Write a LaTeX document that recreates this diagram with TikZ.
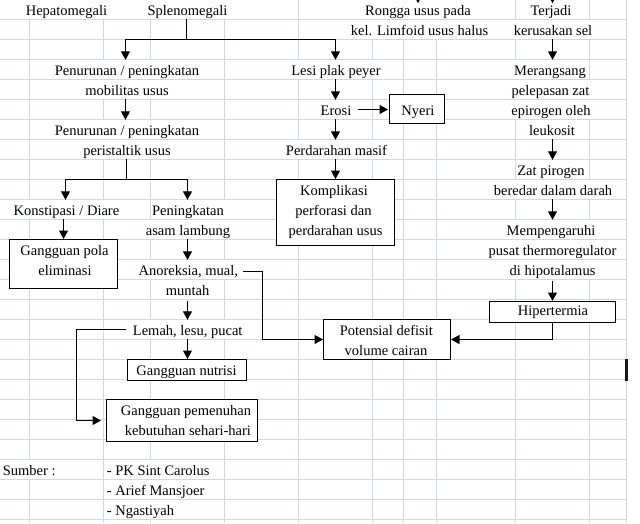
\documentclass[tikz,border=0pt]{standalone}
\usepackage{fontspec}
\setmainfont{Liberation Serif}
\usetikzlibrary{arrows.meta}
\definecolor{gridc}{RGB}{208,215,229}
\begin{document}
\begin{tikzpicture}[x=1pt,y=-1pt,
  txt/.style={anchor=base, fill=white, inner xsep=1pt, inner ysep=0pt, text height=15pt, text depth=4pt, font=\fontsize{14.5pt}{20pt}\selectfont},
  txtl/.style={txt, anchor=base west},
  btxt/.style={anchor=base, inner sep=0pt, font=\fontsize{14.5pt}{20pt}\selectfont},
  box/.style={draw=black, fill=white, line width=1pt, inner sep=0pt},
  ln/.style={line width=1.1pt},
  arr/.style={line width=1.1pt, -{Triangle[width=9pt,length=8.5pt]}},
  gl/.style={draw=gridc, line width=1pt}]
\fill[white] (0,0) rectangle (640,523);
\useasboundingbox (0,0) rectangle (640,523);
% vertical grid lines
\foreach \x in {29.5,103.5,150.5,224.5,298.5,372.5,403.5,436.5,515.5,589.5,626.5}
  \draw[gl] (\x,0) -- (\x,523);
% texts
\node[txt] (hep) at (66.5,15) {Hepatomegali};
\node[txt] (spl) at (187.5,15) {Splenomegali};
\node[txt] (rong1) at (418,15) {Rongga usus pada};
\node[txt] (rong2) at (419.5,35) {kel. Limfoid usus halus};
\node[txt] (terj1) at (551,15) {Terjadi};
\node[txt] (terj2) at (553,35) {kerusakan sel};
\node[txt] (pen1a) at (127,75) {Penurunan / peningkatan};
\node[txt] (pen1b) at (127,95) {mobilitas usus};
\node[txt] (lesi) at (336,75) {Lesi plak peyer};
\node[txt] (mer1) at (550,75) {Merangsang};
\node[txt] (mer2) at (550.5,95) {pelepasan zat};
\node[txt] (mer3) at (551,115) {epirogen oleh};
\node[txt] (mer4) at (552,135) {leukosit};
\node[txt] (erosi) at (336,115) {Erosi};
\node[txt] (pen2a) at (127,135) {Penurunan / peningkatan};
\node[txt] (pen2b) at (127,155) {peristaltik usus};
\node[txt] (perd) at (336.5,155) {Perdarahan masif};
\node[txt] (zat1) at (551,175) {Zat pirogen};
\node[txt] (zat2) at (553,195) {beredar dalam darah};
\node[txt] (kons) at (66.5,215) {Konstipasi / Diare};
\node[txt] (pen3a) at (188,215) {Peningkatan};
\node[txt] (pen3b) at (188,235) {asam lambung};
\node[txt] (memp1) at (551,235) {Mempengaruhi};
\node[txt] (memp2) at (552.5,255) {pusat thermoregulator};
\node[txt] (memp3) at (552.5,275) {di hipotalamus};
\node[txt] (anor1) at (188.3,275) {Anoreksia, mual,};
\node[txt] (anor2) at (187.5,295) {muntah};
\node[txt] (lemah) at (187.7,335) {Lemah, lesu, pucat};
\node[txtl] (sumber) at (1.7,475) {Sumber :};
\node[txtl] (src1) at (105.7,475) {- PK Sint Carolus};
\node[txtl] (src2) at (105.7,495) {- Arief Mansjoer};
\node[txtl] (src3) at (105.7,515) {- Ngastiyah};
% horizontal grid lines
\foreach \k in {0,...,25}
  \draw[gl] (0,{19.5+20*\k}) -- (626.5,{19.5+20*\k});
\fill[black!90] (625,358.5) rectangle (627.5,380.5);
% boxes
\node[box, minimum width=108pt, minimum height=49pt] (polabox) at (63.5,264) {};
\node[box, minimum width=118pt, minimum height=66pt] (kompbox) at (335.5,212.5) {};
\node[box, minimum width=55pt, minimum height=29pt] (nyeribox) at (417,109) {};
\node[box, minimum width=119pt, minimum height=21pt] (nutbox) at (187,370) {};
\node[box, minimum width=151pt, minimum height=42pt] (pembox) at (182,420.5) {};
\node[box, minimum width=126pt, minimum height=21pt] (hipbox) at (552.5,312) {};
\node[box, minimum width=127pt, minimum height=40pt] (potbox) at (387,339.5) {};
% box texts
\node[btxt] (pola1) at (64.5,255) {Gangguan pola};
\node[btxt] (pola2) at (65,275) {eliminasi};
\node[btxt] (komp1) at (334,195) {Komplikasi};
\node[btxt] (komp2) at (333.5,215) {perforasi dan};
\node[btxt] (komp3) at (335.5,235) {perdarahan usus};
\node[btxt] (nyeri) at (418,115) {Nyeri};
\node[btxt] (nut) at (186.5,375) {Gangguan nutrisi};
\node[btxt] (pem1) at (186,415) {Gangguan pemenuhan};
\node[btxt] (pem2) at (188,435) {kebutuhan sehari-hari};
\node[btxt] (hip) at (553,315) {Hipertermia};
\node[btxt] (pot1) at (386.3,335) {Potensial defisit};
\node[btxt] (pot2) at (386,355) {volume cairan};
% helper coordinates
\coordinate (lc) at (125.5,0);
\coordinate (mc) at (335.5,0);
\coordinate (rc) at (552.5,0);
\coordinate (ac) at (187.5,0);
\coordinate (kc) at (65.5,0);
\coordinate (pc) at (63.5,0);
\coordinate (lx) at (76.5,0);
\coordinate (ax) at (262.5,0);
\coordinate (j1) at (186.5,39.5);
\coordinate (j2) at (126.5,179.5);
% connectors
\draw[ln] (spl.south -| j1) -- (j1);
\draw[arr] (j1) -| (pen1a.north -| lc);
\draw[arr] (j1) -| (lesi.north -| mc);
\draw[arr] (pen1b.south -| lc) -- (pen2a.north -| lc);
\draw[ln] (pen2b.south -| j2) -- (j2);
\draw[arr] (j2) -| (kons.north -| kc);
\draw[arr] (j2) -| (pen3a.north -| ac);
\draw[arr] (kons.south -| pc) -- (polabox.north -| pc);
\draw[arr] (pen3b.south -| ac) -- (anor1.north -| ac);
\draw[arr] ([yshift=-2pt]anor2.south -| ac) -- (lemah.north -| ac);
\draw[arr] (lemah.south -| ac) -- (nutbox.north -| ac);
\draw[arr, shorten >=5pt] ([xshift=-6pt]lemah.west) -- (lemah.west -| lx) |- (pembox.west);
\draw[arr] ([xshift=4pt,yshift=-2pt]anor1.east) -- ([yshift=-2pt]anor1.east -| ax) |- (potbox.west);
\draw[arr] (lesi.south -| mc) -- (erosi.north -| mc);
\draw[arr, shorten <=5pt, shorten >=1pt] (erosi.east) -- (nyeribox.west |- erosi.east);
\draw[arr] (erosi.south -| mc) -- (perd.north -| mc);
\draw[arr] (perd.south -| mc) -- (kompbox.north -| mc);
\draw[arr] (terj2.south -| rc) -- (mer1.north -| rc);
\draw[arr] (mer4.south -| rc) -- (zat1.north -| rc);
\draw[arr] (zat2.south -| rc) -- (memp1.north -| rc);
\draw[arr] ([yshift=-2pt]memp3.south -| rc) -- (hipbox.north -| rc);
\draw[arr] (hipbox.south -| rc) |- (potbox.east);
% partial arrow tips at the top edge
\fill (416.3,0) -- (419.7,0) -- (418,3.2) -- cycle;
\fill (550.8,0) -- (554.2,0) -- (552.5,3.2) -- cycle;
\end{tikzpicture}
\end{document}
